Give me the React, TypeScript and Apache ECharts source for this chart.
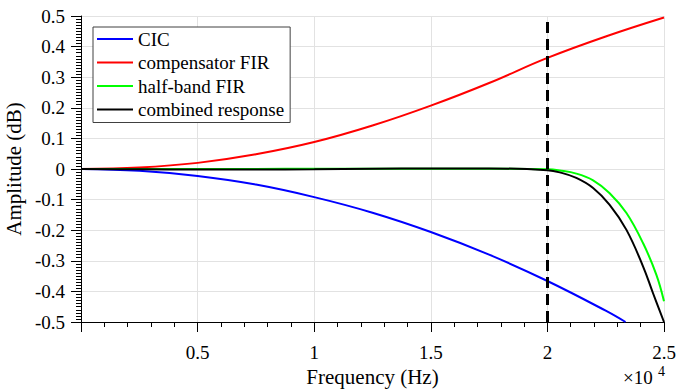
import React, { useEffect, useRef } from "react";
import * as echarts from "echarts";

const cicFreq = [0, 2500, 5000, 7500, 10000, 12500, 15000, 17500, 20000, 22500, 23350];
const cicVals = [0, -0.006, -0.023, -0.051, -0.092, -0.143, -0.206, -0.28, -0.366, -0.463, -0.5];

const compFreq = [0, 2500, 5000, 7500, 10000, 12500, 15000, 17500, 20000, 22500, 25000];
const compVals = [0, 0.005, 0.02, 0.048, 0.088, 0.142, 0.207, 0.281, 0.363, 0.433, 0.495];

const hbFreq = [0, 2500, 5000, 7500, 10000, 12500, 15000, 17500, 20000, 20530, 21240, 21960, 22670, 23390, 24100, 24670, 25000];
const hbVals = [0, 0, 0, 0, 0.001, 0.001, 0.001, 0.001, -0.001, -0.005, -0.015, -0.037, -0.079, -0.144, -0.242, -0.345, -0.432];

const combFreq = [0, 2500, 5000, 7500, 10000, 12500, 15000, 17500, 20000, 20530, 21240, 21960, 22670, 23390, 24100, 24530, 25000];
const combVals = [0, -0.001, -0.002, -0.002, -0.001, 0.001, 0.002, 0.002, -0.004, -0.011, -0.029, -0.062, -0.117, -0.199, -0.318, -0.406, -0.5];

const seriesNames = ["CIC", "compensator FIR", "half-band FIR", "combined response"];
const cutoffFreq = 20000;

const FONT = "'Liberation Serif', 'Times New Roman', serif";

function pairs(xs: number[], ys: number[]) {
  return xs.map((x, i) => [x, ys[i]]);
}

export default function App() {
  const ref = useRef<HTMLDivElement>(null);
  useEffect(() => {
    if (!ref.current) return;
    const chart = echarts.init(ref.current, undefined, { renderer: "svg" });
    const mk = (name: string, data: number[][], color: string, extra: any = {}) => ({
      name,
      type: "line",
      data,
      smooth: 0.4,
      symbol: "none",
      showSymbol: false,
      lineStyle: { color, width: 2 },
      itemStyle: { color },
      ...extra,
    });
    chart.setOption({
      animation: false,
      backgroundColor: "#ffffff",
      textStyle: { fontFamily: FONT },
      grid: { left: 81, right: 14, top: 16, bottom: 67, containLabel: false, outerBoundsMode: "none" },
      legend: {
        data: seriesNames,
        orient: "vertical",
        left: 93,
        top: 27,
        backgroundColor: "#ffffff",
        borderColor: "#404040",
        borderWidth: 1,
        borderRadius: 0,
        padding: [2, 6, 3, 4],
        itemGap: 3.5,
        itemWidth: 36,
        itemHeight: 2,
        icon: "rect",
        textStyle: { fontFamily: FONT, fontSize: 19, color: "#000", lineHeight: 20 },
      },
      xAxis: {
        type: "value",
        min: 0,
        max: 25000,
        interval: 5000,
        name: "Frequency (Hz)",
        nameLocation: "middle",
        nameGap: 44,
        nameTextStyle: { fontFamily: FONT, fontSize: 21, color: "#000" },
        axisLine: { onZero: false, lineStyle: { color: "#000", width: 1 } },
        axisTick: { show: true, length: 10, lineStyle: { color: "#000" } },
        minorTick: { show: true, splitNumber: 5, length: 5, lineStyle: { color: "#000" } },
        splitLine: { show: true, lineStyle: { color: "#e2e2e2", width: 1 } },
        axisLabel: {
          margin: 21,
          fontFamily: FONT,
          fontSize: 19,
          color: "#000",
          formatter: (v: number) => (v === 0 ? "" : String(v / 10000)),
        },
      },
      yAxis: {
        type: "value",
        min: -0.5,
        max: 0.5,
        interval: 0.1,
        name: "Amplitude (dB)",
        nameLocation: "middle",
        nameGap: 49,
        nameTextStyle: { fontFamily: FONT, fontSize: 21, color: "#000" },
        axisLine: { show: true, lineStyle: { color: "#000", width: 1 } },
        axisTick: { show: true, length: 10, lineStyle: { color: "#000" } },
        minorTick: { show: true, splitNumber: 10, length: 5, lineStyle: { color: "#000" } },
        splitLine: { show: true, lineStyle: { color: "#e2e2e2", width: 1 } },
        axisLabel: {
          margin: 16,
          fontFamily: FONT,
          fontSize: 19,
          color: "#000",
          formatter: (v: number) => {
            const r = Math.round(v * 10) / 10;
            return r === 0 ? "0" : String(r);
          },
        },
      },
      series: [
        mk(seriesNames[0], pairs(cicFreq, cicVals), "#0000ff"),
        mk(seriesNames[1], pairs(compFreq, compVals), "#ff0000"),
        mk(seriesNames[2], pairs(hbFreq, hbVals), "#00ff00"),
        mk(seriesNames[3], pairs(combFreq, combVals), "#000000", {
          markLine: {
            silent: true,
            symbol: ["none", "none"],
            label: { show: false },
            lineStyle: { color: "#000", width: 3, type: [11, 6] },
            data: [{ xAxis: cutoffFreq }],
          },
        }),
      ],
      graphic: [
        {
          type: "text",
          left: 623,
          top: 368,
          style: { text: "×10", fontFamily: FONT, fontSize: 19, fill: "#000" },
        },
        {
          type: "text",
          left: 658,
          top: 364,
          style: { text: "4", fontFamily: FONT, fontSize: 14, fill: "#000" },
        },
      ],
    });
    return () => chart.dispose();
  }, []);
  return (
    <div
      ref={ref}
      style={{ position: "fixed", left: 0, top: 0, width: 678, height: 389 }}
    />
  );
}
